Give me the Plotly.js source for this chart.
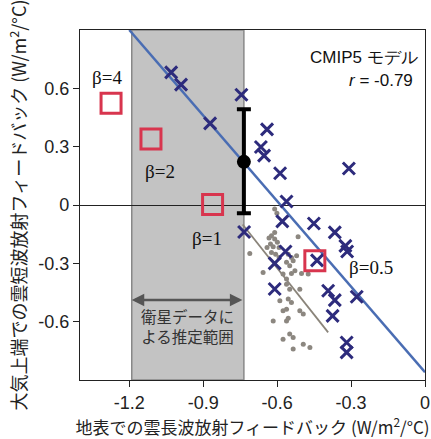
<!DOCTYPE html>
<html>
<head>
<meta charset="utf-8">
<script src="https://cdn.plot.ly/plotly-3.0.1.min.js"></script>
<style>html,body{margin:0;padding:0;background:#fff;}#chart{width:431px;height:439px;}</style>
</head>
<body>
<div id="chart"></div>
<script>
// CMIP5 models
const modelX = [-1.030, -0.990, -0.872, -0.745, -0.641, -0.666, -0.653, -0.588, -0.309, -0.562,
                -0.579, -0.451, -0.734, -0.366, -0.323, -0.316, -0.566, -0.610, -0.438, -0.610,
                -0.393, -0.366, -0.277, -0.375, -0.318, -0.318];
const modelY = [0.682, 0.619, 0.420, 0.567, 0.389, 0.298, 0.254, 0.163, 0.188, 0.018,
                -0.084, -0.095, -0.139, -0.141, -0.210, -0.239, -0.239, -0.300, -0.285, -0.432,
                -0.441, -0.489, -0.472, -0.570, -0.707, -0.758];
// grey dots (perturbed ensemble)
const dotX = [-0.610, -0.601, -0.610, -0.623, -0.633, -0.610, -0.599, -0.627, -0.641, -0.616, -0.592,
              -0.711, -0.623, -0.606, -0.592, -0.555, -0.542, -0.521, -0.515, -0.535, -0.549,
              -0.528, -0.501, -0.474, -0.562, -0.657, -0.576, -0.542, -0.562, -0.562, -0.549,
              -0.508, -0.589, -0.555, -0.542, -0.576, -0.562, -0.508, -0.494, -0.616, -0.562,
              -0.555, -0.549, -0.535, -0.576, -0.494, -0.535, -0.467];
const dotY = [-0.021, -0.043, -0.141, -0.158, -0.170, -0.175, -0.192, -0.201, -0.218, -0.215, -0.218,
              -0.249, -0.244, -0.253, -0.270, -0.253, -0.270, -0.261, -0.163, -0.287, -0.313,
              -0.338, -0.352, -0.355, -0.295, -0.347, -0.355, -0.352, -0.381, -0.407, -0.433,
              -0.433, -0.493, -0.484, -0.501, -0.544, -0.536, -0.544, -0.561, -0.596, -0.596,
              -0.582, -0.664, -0.681, -0.690, -0.716, -0.741, -0.733];
// beta experiments
const betaX = [-1.274, -1.112, -0.862, -0.447];
const betaY = [0.523, 0.340, 0.003, -0.287];
const betaLabels = ['β=4', 'β=2', 'β=1', 'β=0.5'];
// regression lines
const regX = [-1.2, 0.0];
const regY = [0.9, -0.86];
const greyLineX = [-0.74, -0.393];
const greyLineY = [-0.10, -0.655];
// satellite estimate
const satRange = [-1.19, -0.735];
const obsX = [-0.735];
const obsY = [0.222];
const obsPlus = [0.27];
const obsMinus = [0.265];
// ticks
const xTicks = [-1.2, -0.9, -0.6, -0.3, 0];
const xTickText = ['-1.2', '-0.9', '-0.6', '-0.3', '0'];
const yTicks = [-0.6, -0.3, 0, 0.3, 0.6];
const yTickText = ['-0.6', '-0.3', '0', '0.3', '0.6'];

const jp = 'Noto Sans CJK JP, sans-serif';
const sans = 'Liberation Sans, Arial, sans-serif';
const serif = 'Liberation Serif, Times New Roman, serif';

const traces = [
  {x: greyLineX, y: greyLineY, mode: 'lines', line: {color: '#8a847a', width: 1.8}, hoverinfo: 'skip'},
  {x: dotX, y: dotY, mode: 'markers', marker: {color: '#8c8780', size: 5}, hoverinfo: 'skip'},
  {x: regX, y: regY, mode: 'lines', line: {color: '#4a6db3', width: 2.5}, hoverinfo: 'skip'},
  {x: modelX, y: modelY, mode: 'markers',
   marker: {symbol: 'x-thin-open', size: 12, line: {color: '#2d2b7c', width: 3}, color: '#2d2b7c'}},
  {x: obsX, y: obsY, mode: 'markers',
   marker: {color: '#000', size: 14},
   error_y: {type: 'data', symmetric: false, array: obsPlus, arrayminus: obsMinus, color: '#000', thickness: 4, width: 7}},
  {x: betaX, y: betaY, mode: 'markers',
   marker: {symbol: 'square-open', size: 20, line: {color: '#d8354e', width: 3}, color: '#d8354e'}}
];

const shifts = [[-4, 26], [9, -33], [-6, -34], [56, -7]];
const annotations = betaLabels.map((t, i) => ({
  x: betaX[i], y: betaY[i], xref: 'x', yref: 'y', text: t, showarrow: false,
  xshift: shifts[i][0], yshift: shifts[i][1],
  font: {family: serif, size: 19, color: '#111'}
}));
annotations.push({
  x: satRange[0], y: -0.489, ax: satRange[1], ay: -0.489, xref: 'x', yref: 'y', axref: 'x', ayref: 'y',
  text: '', showarrow: true, arrowside: 'end+start', arrowhead: 2, arrowsize: 1, arrowwidth: 2.5, arrowcolor: '#555'
});
annotations.push({
  x: (satRange[0] + satRange[1]) / 2, y: -0.62, xref: 'x', yref: 'y', showarrow: false,
  text: '衛星データに<br>よる推定範囲', font: {family: jp, size: 15.5, color: '#333'}
});
annotations.push({
  x: 0.985, y: 0.955, xref: 'paper', yref: 'paper', xanchor: 'right', align: 'right', showarrow: false,
  text: 'CMIP5 モデル', font: {family: sans, size: 17, color: '#111'}
});
annotations.push({
  x: 0.97, y: 0.89, xref: 'paper', yref: 'paper', xanchor: 'right', align: 'right', showarrow: false,
  text: '<i>r</i> = -0.79', font: {family: sans, size: 17, color: '#111'}
});

const layout = {
  width: 431, height: 439,
  margin: {l: 80, r: 6, t: 30, b: 59},
  paper_bgcolor: '#fff', plot_bgcolor: '#fff',
  showlegend: false,
  xaxis: {
    range: [-1.4, 0], tickvals: xTicks, ticktext: xTickText,
    showgrid: false, zeroline: false, showline: true, mirror: true, linecolor: '#222', linewidth: 1.2,
    ticks: 'outside', ticklen: 6, tickcolor: '#222',
    tickfont: {family: sans, size: 18, color: '#222'},
    title: {text: '地表での雲長波放射フィードバック (W/m<sup>2</sup>/°C)', font: {family: jp, size: 17, color: '#222'}, standoff: 4}
  },
  yaxis: {
    range: [-0.9, 0.9], tickvals: yTicks, ticktext: yTickText,
    showgrid: false, zeroline: true, zerolinecolor: '#222', zerolinewidth: 1,
    showline: true, mirror: true, linecolor: '#222', linewidth: 1.2,
    ticks: 'outside', ticklen: 6, tickcolor: '#222',
    tickfont: {family: sans, size: 18, color: '#222'},
    title: {text: '大気上端での雲短波放射フィードバック (W/m<sup>2</sup>/°C)', font: {family: jp, size: 18, color: '#222'}, standoff: 6}
  },
  shapes: [{
    type: 'rect', xref: 'x', yref: 'paper', x0: satRange[0], x1: satRange[1], y0: 0, y1: 1,
    fillcolor: '#c3c3c3', line: {color: '#888', width: 1.5}, layer: 'below'
  }],
  annotations: annotations
};

Plotly.newPlot('chart', traces, layout, {displayModeBar: false, staticPlot: true});
</script>
</body>
</html>
